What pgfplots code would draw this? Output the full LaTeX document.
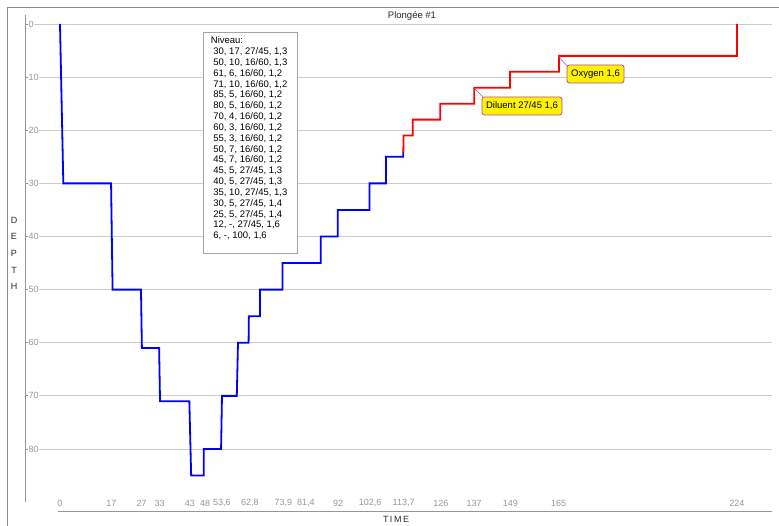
\documentclass[border=0pt]{standalone}
\usepackage{fontspec}
\setmainfont{Liberation Sans}
\usepackage{pgfplots}
\pgfplotsset{compat=1.18}
\definecolor{gridgray}{RGB}{204,204,204}
\definecolor{axgray}{RGB}{150,150,150}
\definecolor{tickgray}{RGB}{150,150,150}
\definecolor{framegray}{RGB}{140,140,140}
\definecolor{boxgray}{RGB}{165,165,165}
\definecolor{callout}{RGB}{170,80,170}
\definecolor{diveblue}{RGB}{0,0,255}
\definecolor{divered}{RGB}{255,0,0}
\definecolor{titletext}{RGB}{40,40,40}
\begin{document}
\begin{tikzpicture}[x=1pt,y=1pt]
\begin{axis}[
  at={(25pt,24pt)}, anchor=south west,
  scale only axis, width=747pt, height=487pt,
  xmin=-11.58, xmax=235.6,
  ymin=-1.694, ymax=89.98,
  y dir=reverse,
  axis line style={draw=none},
  ytick={0,10,...,80},
  ymajorgrids, major grid style={gridgray, line width=0.8pt},
  ytick pos=left, tick align=inside, major tick length=3pt,
  ytick style={axgray, line width=0.8pt},
  xtick={0,17,27,33,43,48,53.6,62.8,73.9,81.4,92,102.6,113.7,126,137,149,165,224},
  xticklabels={0,17,27,33,43,48,{53,6},{62,8},{73,9},{81,4},92,{102,6},{113,7},126,137,149,165,224},
  xtick style={draw=none},
  /pgf/number format/assume math mode=true,
  tick label style={font=\fontsize{9}{10}\selectfont, text=tickgray},
  yticklabel style={anchor=west, xshift=3pt, fill=white, inner sep=0.5pt},
  xticklabel style={anchor=center, yshift=-1pt},
]
\addplot[diveblue, line width=1.8pt] coordinates {
(0,0) (1.1,30) (16.9,30) (17.4,50) (26.8,50) (27.1,61) (32.8,61) (33.1,71)
(42.8,71) (43.4,85) (47.6,85) (47.6,80) (53.3,80) (53.6,70) (58.5,70) (58.9,60)
(62.4,60) (62.5,55) (66.2,55) (66.2,50) (73.6,50) (73.6,45) (86.3,45) (86.3,40)
(91.9,40) (91.9,35) (102.4,35) (102.4,30) (107.9,30) (107.9,25) (113.6,25) (113.6,24)
};
\addplot[divered, line width=1.8pt] coordinates {
(113.6,24.2) (113.7,21) (116.7,21) (116.7,18) (125.8,18) (125.8,15) (137.1,15)
(137.1,12) (148.9,12) (148.9,9) (165.1,9) (165.1,6) (224,6) (224,0)
};
\end{axis}
% frame and axis lines
\draw[framegray, line width=0.8pt] (7,0) -- (7,519) -- (779,519);
\draw[axgray, line width=0.8pt] (25,24) -- (25,511);
\draw[axgray, line width=0.8pt] (58,15) -- (772,15);
% titles
\node[font=\fontsize{9.5}{11}\selectfont, text=titletext] at (412,510) {Plongée \#1};
\node[font=\fontsize{9}{16.7}\selectfont, align=center, text=titletext] at (14,272.5) {D\\E\\P\\T\\H};
\node[font=\fontsize{9}{11}\selectfont, text=titletext] at (396,7) {T\kern1.5pt I\kern1.5pt M\kern1.5pt E};
% legend box
\draw[boxgray, fill=white, line width=0.8pt] (203,494) rectangle (297,273);
\node[anchor=north west, inner sep=0pt, align=left, font=\fontsize{9.5}{10.83}\selectfont] at (210.7,489.3) {Niveau:\\
\hspace*{2.5pt}30, 17, 27/45, 1,3\\
\hspace*{2.5pt}50, 10, 16/60, 1,3\\
\hspace*{2.5pt}61, 6, 16/60, 1,2\\
\hspace*{2.5pt}71, 10, 16/60, 1,2\\
\hspace*{2.5pt}85, 5, 16/60, 1,2\\
\hspace*{2.5pt}80, 5, 16/60, 1,2\\
\hspace*{2.5pt}70, 4, 16/60, 1,2\\
\hspace*{2.5pt}60, 3, 16/60, 1,2\\
\hspace*{2.5pt}55, 3, 16/60, 1,2\\
\hspace*{2.5pt}50, 7, 16/60, 1,2\\
\hspace*{2.5pt}45, 7, 16/60, 1,2\\
\hspace*{2.5pt}45, 5, 27/45, 1,3\\
\hspace*{2.5pt}40, 5, 27/45, 1,3\\
\hspace*{2.5pt}35, 10, 27/45, 1,3\\
\hspace*{2.5pt}30, 5, 27/45, 1,4\\
\hspace*{2.5pt}25, 5, 27/45, 1,4\\
\hspace*{2.5pt}12, -, 27/45, 1,6\\
\hspace*{2.5pt}6, -, 100, 1,6};
% callouts
\draw[callout, line width=0.6pt] (474.3,437.7) -- (485,427);
\node[draw=callout, fill=yellow, rounded corners=2.5pt, line width=0.8pt, minimum height=18pt, minimum width=80pt, inner sep=2pt, font=\fontsize{9.5}{11}\selectfont] at (522,420) {Diluent 27/45 1,6};
\draw[callout, line width=0.6pt] (558,470) -- (569,458);
\node[draw=callout, fill=yellow, rounded corners=2.5pt, line width=0.8pt, minimum height=18pt, minimum width=57pt, inner sep=2pt, font=\fontsize{9.5}{11}\selectfont] at (595.5,452) {Oxygen 1,6};
\pgfresetboundingbox
\path (0,0) rectangle (779,526);
\end{tikzpicture}
\end{document}
